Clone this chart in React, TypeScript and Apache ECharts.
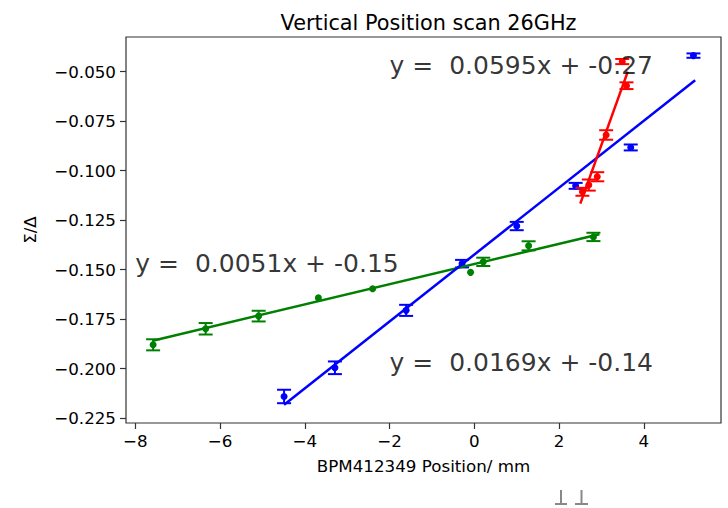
import React, { useEffect, useRef } from "react";
import * as echarts from "echarts";

// ---- data ----
const greenX = [-7.58, -6.34, -5.09, -3.68, -2.40, -0.09, 0.21, 1.28, 2.81];
const greenY = [-0.1880, -0.1799, -0.1735, -0.1643, -0.1597, -0.1514, -0.1461, -0.1380, -0.1335];
const greenErr = [0.0028, 0.0029, 0.0027, 0, 0, 0, 0.0021, 0.0023, 0.0021];

const blueX = [-4.49, -3.29, -1.61, -0.29, 1.0, 2.39, 3.69, 5.17];
const blueY = [-0.2141, -0.1996, -0.1706, -0.1470, -0.1280, -0.1077, -0.0883, -0.0419];
const blueErr = [0.0034, 0.0032, 0.0028, 0.0019, 0.0021, 0.0015, 0.0015, 0.0011];

const redX = [3.49, 3.59, 3.11, 2.90, 2.70, 2.55];
const redY = [-0.0449, -0.0571, -0.0820, -0.1031, -0.1073, -0.1107];
const redErr = [0.0013, 0.0017, 0.0024, 0.0023, 0.0028, 0.0020];

// fit lines: slope, intercept, x-range
const fitNames = ["green", "blue", "red"];
const fitSlope = [0.0051, 0.0169, 0.0595];
const fitIntercept = [-0.1472, -0.1424, -0.2654];
const fitXStart = [-7.59, -4.49, 2.50];
const fitXEnd = [2.95, 5.21, 3.62];

// annotation texts (data coords of left baseline)
const annText = ["y =  0.0051x + -0.15", "y =  0.0169x + -0.14", "y =  0.0595x + -0.27"];
const annX = [-8.0, -2.0, -2.0];
const annY = [-0.15, -0.2, -0.05];

const xTicks = [-8, -6, -4, -2, 0, 2, 4];
const yTicks = [-0.225, -0.2, -0.175, -0.15, -0.125, -0.1, -0.075, -0.05];

const COLORS: Record<string, string> = { green: "#008000", blue: "#0000ff", red: "#ff0000" };
const FONT = "DejaVu Sans";

function errSeries(name: string, xs: number[], ys: number[], es: number[]) {
  const color = COLORS[name];
  return {
    type: "custom",
    name,
    z: 3,
    data: xs.map((x, i) => [x, ys[i], es[i]]),
    renderItem: (params: any, api: any) => {
      const x = api.value(0);
      const y = api.value(1);
      const e = api.value(2);
      const c = api.coord([x, y]);
      const children: any[] = [];
      if (e > 0) {
        const t = api.coord([x, y + e]);
        const b = api.coord([x, y - e]);
        const hw = 7;
        const st = { stroke: color, lineWidth: 2 };
        children.push({ type: "line", shape: { x1: t[0], y1: t[1], x2: b[0], y2: b[1] }, style: st });
        children.push({ type: "line", shape: { x1: t[0] - hw, y1: t[1], x2: t[0] + hw, y2: t[1] }, style: st });
        children.push({ type: "line", shape: { x1: b[0] - hw, y1: b[1], x2: b[0] + hw, y2: b[1] }, style: st });
      }
      children.push({ type: "circle", shape: { cx: c[0], cy: c[1], r: 3.5 }, style: { fill: color } });
      return { type: "group", children };
    },
  };
}

export default function App() {
  const ref = useRef<HTMLDivElement>(null);
  useEffect(() => {
    if (!ref.current) return;
    const chart = echarts.init(ref.current, null, { renderer: "svg" });
    const minus = (s: string) => s.replace("-", "\u2212");
    const fitSeries = fitNames.map((n, i) => ({
      type: "line",
      z: 4,
      symbol: "none",
      silent: true,
      lineStyle: { color: COLORS[n], width: 2.5 },
      data: [
        [fitXStart[i], fitSlope[i] * fitXStart[i] + fitIntercept[i]],
        [fitXEnd[i], fitSlope[i] * fitXEnd[i] + fitIntercept[i]],
      ],
    }));
    const annSeries = {
      type: "scatter",
      symbolSize: 0,
      z: 5,
      silent: true,
      data: annText.map((t, i) => ({ value: [annX[i], annY[i]], name: t })),
      label: {
        show: true,
        position: [0, 0],
        align: "left",
        verticalAlign: "bottom",
        offset: [0, 6],
        formatter: (p: any) => p.name,
        fontFamily: FONT,
        fontSize: 25,
        color: "#000",
      },
    };
    chart.setOption({
      animation: false,
      title: {
        text: "Vertical Position scan 26GHz",
        left: 423.5,
        top: 7,
        textAlign: "center",
        textStyle: { fontFamily: FONT, fontSize: 20.8, fontWeight: "normal", color: "#000" },
      },
      grid: {
        left: 126,
        top: 37,
        right: 7,
        bottom: 85,
        show: true,
        borderColor: "#333",
        borderWidth: 1.2,
        backgroundColor: "transparent",
      },
      xAxis: {
        type: "value",
        min: -8.22,
        max: 5.82,
        splitLine: { show: false },
        axisLine: { show: false, onZero: false },
        axisTick: { show: true, length: 6, lineStyle: { color: "#333", width: 1.2 }, customValues: xTicks },
        axisLabel: {
          customValues: xTicks,
          formatter: (v: number) => minus(String(v)),
          fontFamily: FONT,
          fontSize: 16.7,
          color: "#000",
          margin: 9,
        },
        name: "BPM412349 Position/ mm",
        nameLocation: "middle",
        nameGap: 34,
        nameTextStyle: { fontFamily: FONT, fontSize: 16.7, color: "#000" },
      },
      yAxis: {
        type: "value",
        min: -0.2275,
        max: -0.0325,
        splitLine: { show: false },
        axisLine: { show: false, onZero: false },
        axisTick: { show: true, length: 6, lineStyle: { color: "#333", width: 1.2 }, customValues: yTicks },
        axisLabel: {
          customValues: yTicks,
          formatter: (v: number) => minus(v.toFixed(3)),
          fontFamily: FONT,
          fontSize: 16.7,
          color: "#000",
          margin: 10,
        },
        name: "Σ/Δ",
        nameLocation: "middle",
        nameRotate: 90,
        nameGap: 88,
        nameTextStyle: { fontFamily: FONT, fontSize: 16.7, color: "#000" },
      },
      graphic: [
        { type: "line", shape: { x1: 561, y1: 490, x2: 561, y2: 504 }, style: { stroke: "#888", lineWidth: 2 } },
        { type: "line", shape: { x1: 555, y1: 504, x2: 567, y2: 504 }, style: { stroke: "#888", lineWidth: 2 } },
        { type: "line", shape: { x1: 581.5, y1: 490, x2: 581.5, y2: 504 }, style: { stroke: "#888", lineWidth: 2 } },
        { type: "line", shape: { x1: 575, y1: 504, x2: 588, y2: 504 }, style: { stroke: "#888", lineWidth: 2 } },
      ],
      series: [
        errSeries("green", greenX, greenY, greenErr),
        errSeries("blue", blueX, blueY, blueErr),
        errSeries("red", redX, redY, redErr),
        ...fitSeries,
        annSeries,
      ],
    });
    return () => chart.dispose();
  }, []);
  return (
    <div
      ref={ref}
      style={{ position: "fixed", left: 0, top: 0, width: 728, height: 508, background: "#fff" }}
    />
  );
}
